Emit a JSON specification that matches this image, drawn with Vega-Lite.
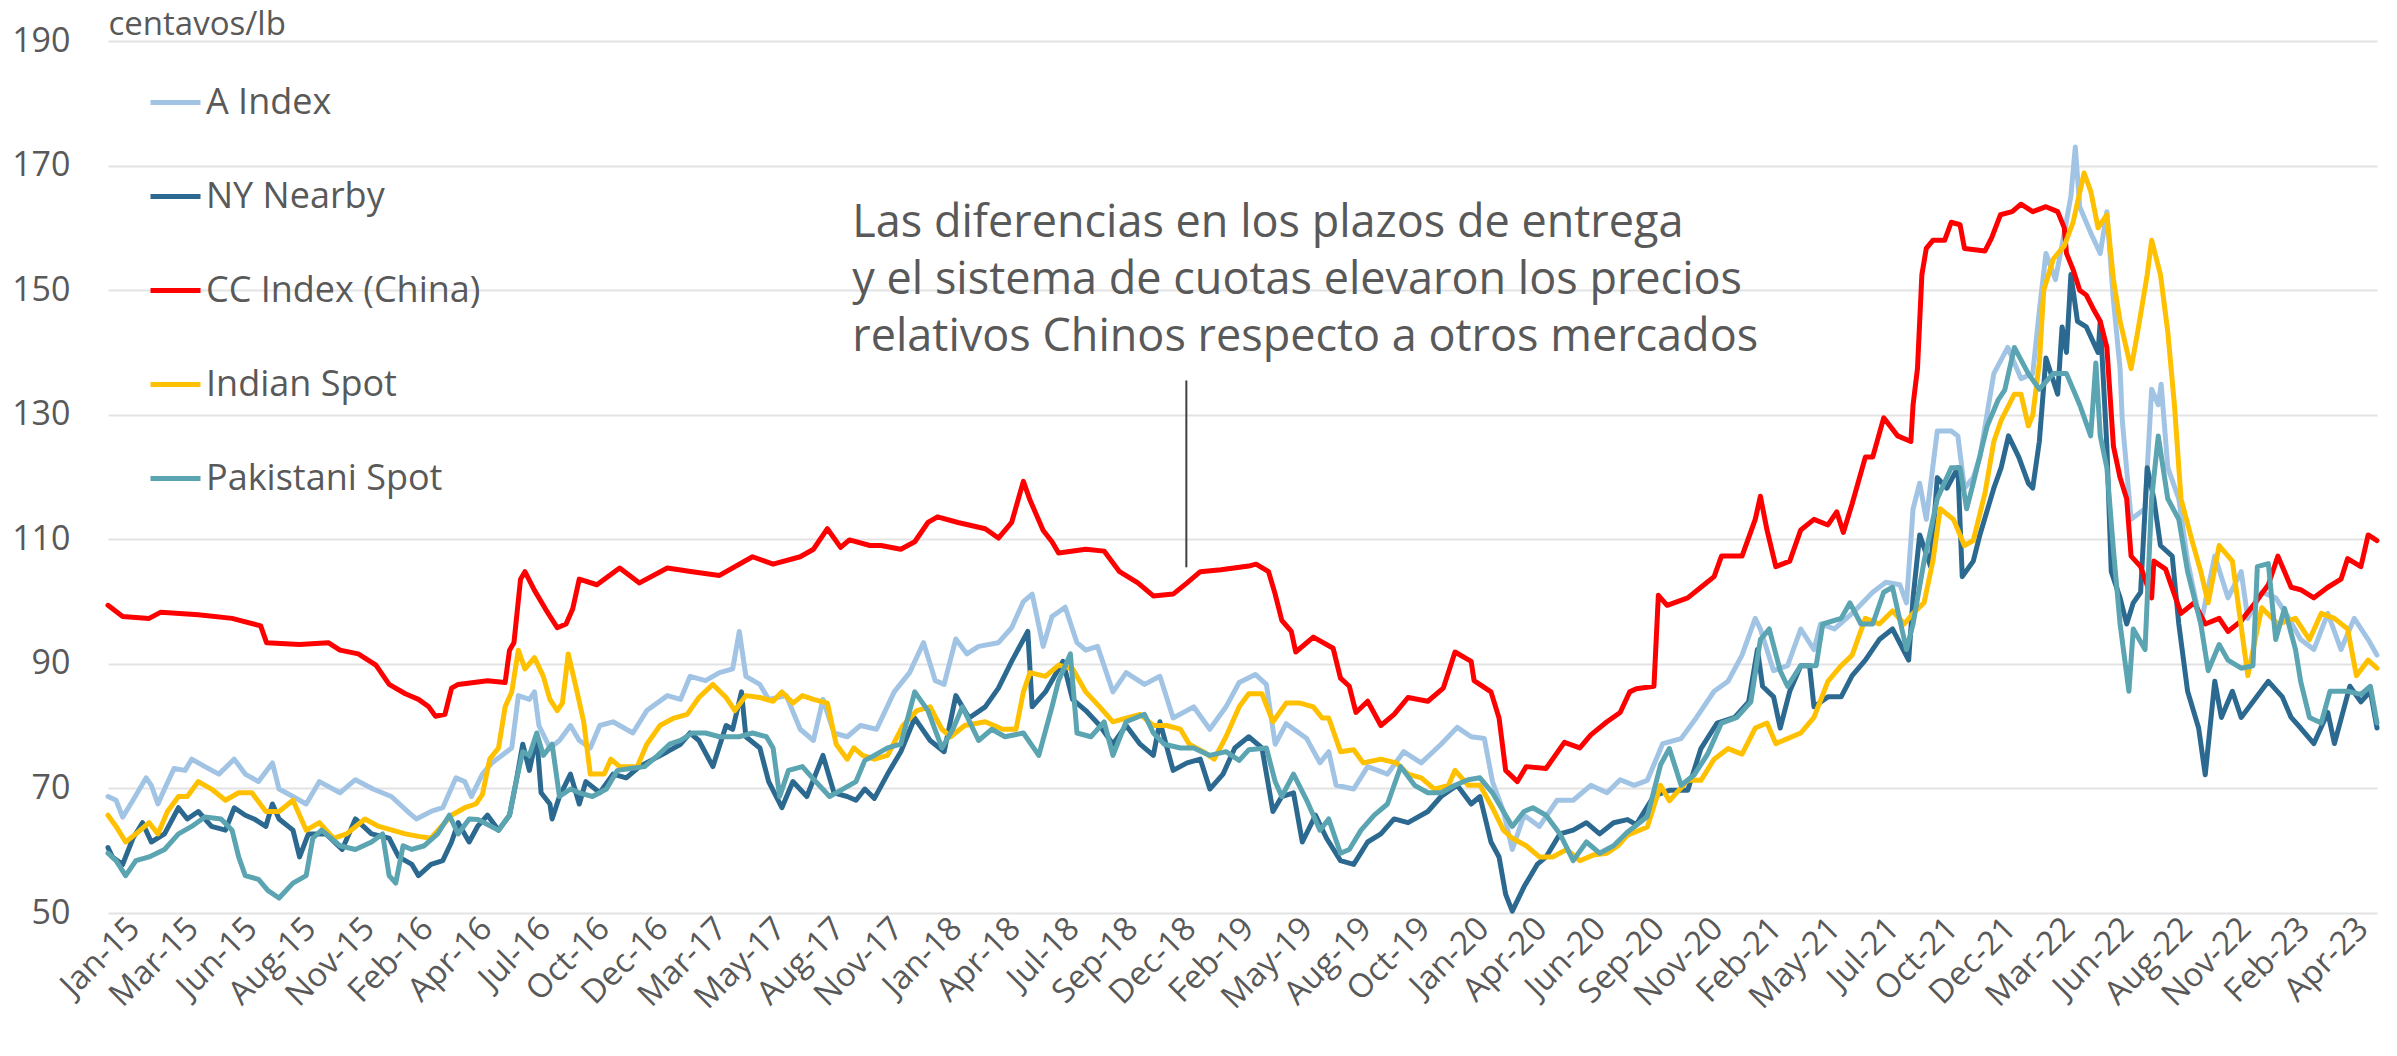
{
"$schema": "https://vega.github.io/schema/vega-lite/v6.json",
"width": 2269, "height": 872,
"autosize": {"type": "none"},
"padding": {"left": 108, "top": 41, "right": 20, "bottom": 143},
"background": "white",
"config": {"view": {"stroke": null}, "font": "Open Sans"},
"datasets": {
"prices": [
{"s":"A Index","d":"2015-01-01","v":68.7},{"s":"A Index","d":"2015-01-12","v":68.1},{"s":"A Index","d":"2015-01-21","v":65.4},{"s":"A Index","d":"2015-02-04","v":68.1},{"s":"A Index","d":"2015-02-22","v":71.7},{"s":"A Index","d":"2015-03-01","v":70.5},{"s":"A Index","d":"2015-03-10","v":67.5},{"s":"A Index","d":"2015-03-19","v":69.9},{"s":"A Index","d":"2015-04-01","v":73.2},{"s":"A Index","d":"2015-04-16","v":72.9},{"s":"A Index","d":"2015-04-25","v":74.7},{"s":"A Index","d":"2015-05-13","v":73.5},{"s":"A Index","d":"2015-06-01","v":72.3},{"s":"A Index","d":"2015-06-22","v":74.7},{"s":"A Index","d":"2015-07-07","v":72.3},{"s":"A Index","d":"2015-07-25","v":71.1},{"s":"A Index","d":"2015-08-13","v":74.1},{"s":"A Index","d":"2015-08-22","v":69.9},{"s":"A Index","d":"2015-09-10","v":68.7},{"s":"A Index","d":"2015-09-28","v":67.5},{"s":"A Index","d":"2015-10-16","v":71.1},{"s":"A Index","d":"2015-11-13","v":69.3},{"s":"A Index","d":"2015-12-04","v":71.4},{"s":"A Index","d":"2015-12-28","v":69.9},{"s":"A Index","d":"2016-01-22","v":68.7},{"s":"A Index","d":"2016-02-16","v":66.0},{"s":"A Index","d":"2016-02-25","v":65.1},{"s":"A Index","d":"2016-03-16","v":66.3},{"s":"A Index","d":"2016-04-01","v":66.9},{"s":"A Index","d":"2016-04-19","v":71.7},{"s":"A Index","d":"2016-05-01","v":71.1},{"s":"A Index","d":"2016-05-10","v":68.7},{"s":"A Index","d":"2016-05-25","v":72.3},{"s":"A Index","d":"2016-06-07","v":74.1},{"s":"A Index","d":"2016-07-04","v":76.5},{"s":"A Index","d":"2016-07-13","v":84.9},{"s":"A Index","d":"2016-07-28","v":84.3},{"s":"A Index","d":"2016-08-04","v":85.5},{"s":"A Index","d":"2016-08-10","v":80.1},{"s":"A Index","d":"2016-08-25","v":76.5},{"s":"A Index","d":"2016-09-07","v":77.7},{"s":"A Index","d":"2016-09-22","v":80.1},{"s":"A Index","d":"2016-10-04","v":77.7},{"s":"A Index","d":"2016-10-19","v":76.5},{"s":"A Index","d":"2016-11-01","v":80.1},{"s":"A Index","d":"2016-11-19","v":80.7},{"s":"A Index","d":"2016-12-16","v":78.9},{"s":"A Index","d":"2017-01-04","v":82.5},{"s":"A Index","d":"2017-02-01","v":84.9},{"s":"A Index","d":"2017-02-19","v":84.3},{"s":"A Index","d":"2017-03-04","v":88.0},{"s":"A Index","d":"2017-03-25","v":87.3},{"s":"A Index","d":"2017-04-13","v":88.6},{"s":"A Index","d":"2017-05-01","v":89.2},{"s":"A Index","d":"2017-05-10","v":95.2},{"s":"A Index","d":"2017-05-19","v":88.0},{"s":"A Index","d":"2017-06-07","v":86.7},{"s":"A Index","d":"2017-06-19","v":84.3},{"s":"A Index","d":"2017-07-13","v":84.9},{"s":"A Index","d":"2017-08-01","v":79.5},{"s":"A Index","d":"2017-08-19","v":77.7},{"s":"A Index","d":"2017-09-01","v":84.3},{"s":"A Index","d":"2017-09-16","v":78.9},{"s":"A Index","d":"2017-10-04","v":78.3},{"s":"A Index","d":"2017-10-22","v":80.1},{"s":"A Index","d":"2017-11-13","v":79.5},{"s":"A Index","d":"2017-12-07","v":85.5},{"s":"A Index","d":"2017-12-28","v":88.6},{"s":"A Index","d":"2018-01-16","v":93.4},{"s":"A Index","d":"2018-02-01","v":87.3},{"s":"A Index","d":"2018-02-13","v":86.7},{"s":"A Index","d":"2018-03-01","v":94.0},{"s":"A Index","d":"2018-03-16","v":91.6},{"s":"A Index","d":"2018-04-01","v":92.8},{"s":"A Index","d":"2018-04-28","v":93.4},{"s":"A Index","d":"2018-05-16","v":95.8},{"s":"A Index","d":"2018-06-01","v":100.0},{"s":"A Index","d":"2018-06-13","v":101.2},{"s":"A Index","d":"2018-06-28","v":92.8},{"s":"A Index","d":"2018-07-10","v":97.6},{"s":"A Index","d":"2018-07-28","v":99.1},{"s":"A Index","d":"2018-08-13","v":93.4},{"s":"A Index","d":"2018-08-25","v":92.2},{"s":"A Index","d":"2018-09-10","v":92.8},{"s":"A Index","d":"2018-10-01","v":85.5},{"s":"A Index","d":"2018-10-19","v":88.6},{"s":"A Index","d":"2018-11-13","v":86.7},{"s":"A Index","d":"2018-12-04","v":88.0},{"s":"A Index","d":"2018-12-22","v":81.3},{"s":"A Index","d":"2019-01-19","v":83.1},{"s":"A Index","d":"2019-02-10","v":79.5},{"s":"A Index","d":"2019-03-04","v":83.1},{"s":"A Index","d":"2019-03-22","v":87.0},{"s":"A Index","d":"2019-04-13","v":88.3},{"s":"A Index","d":"2019-04-28","v":86.7},{"s":"A Index","d":"2019-05-10","v":77.1},{"s":"A Index","d":"2019-05-25","v":80.4},{"s":"A Index","d":"2019-06-22","v":78.0},{"s":"A Index","d":"2019-07-10","v":74.1},{"s":"A Index","d":"2019-07-22","v":75.9},{"s":"A Index","d":"2019-08-01","v":70.5},{"s":"A Index","d":"2019-08-25","v":69.9},{"s":"A Index","d":"2019-09-13","v":73.5},{"s":"A Index","d":"2019-10-10","v":72.3},{"s":"A Index","d":"2019-11-01","v":75.9},{"s":"A Index","d":"2019-11-25","v":74.1},{"s":"A Index","d":"2019-12-22","v":77.1},{"s":"A Index","d":"2020-01-13","v":79.8},{"s":"A Index","d":"2020-02-01","v":78.3},{"s":"A Index","d":"2020-02-19","v":78.0},{"s":"A Index","d":"2020-03-01","v":71.1},{"s":"A Index","d":"2020-03-16","v":66.3},{"s":"A Index","d":"2020-03-28","v":60.2},{"s":"A Index","d":"2020-04-13","v":65.7},{"s":"A Index","d":"2020-05-04","v":63.9},{"s":"A Index","d":"2020-05-28","v":68.1},{"s":"A Index","d":"2020-06-19","v":68.1},{"s":"A Index","d":"2020-07-13","v":70.5},{"s":"A Index","d":"2020-08-04","v":69.3},{"s":"A Index","d":"2020-08-22","v":71.4},{"s":"A Index","d":"2020-09-10","v":70.5},{"s":"A Index","d":"2020-09-28","v":71.3},{"s":"A Index","d":"2020-10-19","v":77.2},{"s":"A Index","d":"2020-11-13","v":78.0},{"s":"A Index","d":"2020-12-04","v":81.4},{"s":"A Index","d":"2020-12-28","v":85.6},{"s":"A Index","d":"2021-01-16","v":87.2},{"s":"A Index","d":"2021-02-04","v":91.4},{"s":"A Index","d":"2021-02-22","v":97.3},{"s":"A Index","d":"2021-03-01","v":95.6},{"s":"A Index","d":"2021-03-19","v":88.9},{"s":"A Index","d":"2021-04-07","v":89.7},{"s":"A Index","d":"2021-04-25","v":95.6},{"s":"A Index","d":"2021-05-13","v":92.3},{"s":"A Index","d":"2021-05-22","v":96.4},{"s":"A Index","d":"2021-06-10","v":95.6},{"s":"A Index","d":"2021-07-04","v":98.1},{"s":"A Index","d":"2021-08-01","v":101.5},{"s":"A Index","d":"2021-08-19","v":103.1},{"s":"A Index","d":"2021-09-07","v":102.7},{"s":"A Index","d":"2021-09-16","v":99.8},{"s":"A Index","d":"2021-09-25","v":114.9},{"s":"A Index","d":"2021-10-04","v":119.0},{"s":"A Index","d":"2021-10-13","v":113.2},{"s":"A Index","d":"2021-10-28","v":127.4},{"s":"A Index","d":"2021-11-16","v":127.4},{"s":"A Index","d":"2021-11-25","v":126.6},{"s":"A Index","d":"2021-12-04","v":118.2},{"s":"A Index","d":"2021-12-16","v":119.9},{"s":"A Index","d":"2021-12-25","v":123.2},{"s":"A Index","d":"2022-01-13","v":136.6},{"s":"A Index","d":"2022-02-01","v":140.8},{"s":"A Index","d":"2022-02-19","v":135.8},{"s":"A Index","d":"2022-03-07","v":136.6},{"s":"A Index","d":"2022-03-16","v":146.7},{"s":"A Index","d":"2022-03-25","v":155.9},{"s":"A Index","d":"2022-04-07","v":151.7},{"s":"A Index","d":"2022-04-19","v":159.2},{"s":"A Index","d":"2022-04-28","v":165.1},{"s":"A Index","d":"2022-05-04","v":173.0},{"s":"A Index","d":"2022-05-10","v":163.4},{"s":"A Index","d":"2022-05-25","v":159.2},{"s":"A Index","d":"2022-06-07","v":155.9},{"s":"A Index","d":"2022-06-16","v":162.6},{"s":"A Index","d":"2022-06-25","v":148.3},{"s":"A Index","d":"2022-07-04","v":137.4},{"s":"A Index","d":"2022-07-07","v":129.1},{"s":"A Index","d":"2022-07-19","v":113.2},{"s":"A Index","d":"2022-08-07","v":114.9},{"s":"A Index","d":"2022-08-16","v":134.1},{"s":"A Index","d":"2022-08-25","v":131.6},{"s":"A Index","d":"2022-08-29","v":134.9},{"s":"A Index","d":"2022-09-07","v":121.5},{"s":"A Index","d":"2022-09-22","v":116.5},{"s":"A Index","d":"2022-10-04","v":106.5},{"s":"A Index","d":"2022-10-22","v":96.4},{"s":"A Index","d":"2022-11-10","v":107.3},{"s":"A Index","d":"2022-11-28","v":100.6},{"s":"A Index","d":"2022-12-16","v":104.8},{"s":"A Index","d":"2022-12-25","v":97.3},{"s":"A Index","d":"2023-01-13","v":101.5},{"s":"A Index","d":"2023-02-01","v":100.6},{"s":"A Index","d":"2023-02-19","v":97.3},{"s":"A Index","d":"2023-03-07","v":93.9},{"s":"A Index","d":"2023-03-25","v":92.3},{"s":"A Index","d":"2023-04-13","v":98.1},{"s":"A Index","d":"2023-05-01","v":92.3},{"s":"A Index","d":"2023-05-19","v":97.3},{"s":"A Index","d":"2023-06-07","v":93.9},{"s":"A Index","d":"2023-06-19","v":91.4},
{"s":"NY Nearby","d":"2015-01-01","v":60.5},{"s":"NY Nearby","d":"2015-01-07","v":59.0},{"s":"NY Nearby","d":"2015-01-21","v":57.8},{"s":"NY Nearby","d":"2015-02-04","v":62.0},{"s":"NY Nearby","d":"2015-02-17","v":64.5},{"s":"NY Nearby","d":"2015-03-01","v":61.4},{"s":"NY Nearby","d":"2015-03-19","v":62.7},{"s":"NY Nearby","d":"2015-04-07","v":66.9},{"s":"NY Nearby","d":"2015-04-19","v":65.1},{"s":"NY Nearby","d":"2015-05-04","v":66.3},{"s":"NY Nearby","d":"2015-05-22","v":63.9},{"s":"NY Nearby","d":"2015-06-10","v":63.3},{"s":"NY Nearby","d":"2015-06-22","v":66.9},{"s":"NY Nearby","d":"2015-07-07","v":65.7},{"s":"NY Nearby","d":"2015-07-19","v":65.1},{"s":"NY Nearby","d":"2015-08-04","v":63.9},{"s":"NY Nearby","d":"2015-08-13","v":67.5},{"s":"NY Nearby","d":"2015-08-22","v":65.1},{"s":"NY Nearby","d":"2015-09-10","v":63.3},{"s":"NY Nearby","d":"2015-09-19","v":59.0},{"s":"NY Nearby","d":"2015-10-01","v":62.7},{"s":"NY Nearby","d":"2015-10-25","v":62.7},{"s":"NY Nearby","d":"2015-11-16","v":60.2},{"s":"NY Nearby","d":"2015-12-04","v":65.1},{"s":"NY Nearby","d":"2015-12-26","v":62.7},{"s":"NY Nearby","d":"2016-01-19","v":62.0},{"s":"NY Nearby","d":"2016-02-01","v":59.0},{"s":"NY Nearby","d":"2016-02-19","v":57.8},{"s":"NY Nearby","d":"2016-02-28","v":56.0},{"s":"NY Nearby","d":"2016-03-16","v":57.8},{"s":"NY Nearby","d":"2016-04-01","v":58.4},{"s":"NY Nearby","d":"2016-04-13","v":61.4},{"s":"NY Nearby","d":"2016-04-22","v":64.5},{"s":"NY Nearby","d":"2016-05-07","v":61.4},{"s":"NY Nearby","d":"2016-05-19","v":64.0},{"s":"NY Nearby","d":"2016-06-01","v":65.7},{"s":"NY Nearby","d":"2016-06-16","v":63.3},{"s":"NY Nearby","d":"2016-07-01","v":65.7},{"s":"NY Nearby","d":"2016-07-10","v":71.1},{"s":"NY Nearby","d":"2016-07-19","v":77.1},{"s":"NY Nearby","d":"2016-07-28","v":72.9},{"s":"NY Nearby","d":"2016-08-07","v":78.3},{"s":"NY Nearby","d":"2016-08-13","v":69.3},{"s":"NY Nearby","d":"2016-08-25","v":67.5},{"s":"NY Nearby","d":"2016-08-28","v":65.1},{"s":"NY Nearby","d":"2016-09-07","v":68.7},{"s":"NY Nearby","d":"2016-09-22","v":72.3},{"s":"NY Nearby","d":"2016-10-04","v":67.5},{"s":"NY Nearby","d":"2016-10-13","v":71.1},{"s":"NY Nearby","d":"2016-11-01","v":69.3},{"s":"NY Nearby","d":"2016-11-19","v":72.3},{"s":"NY Nearby","d":"2016-12-07","v":71.7},{"s":"NY Nearby","d":"2016-12-25","v":73.5},{"s":"NY Nearby","d":"2017-01-13","v":74.7},{"s":"NY Nearby","d":"2017-02-01","v":75.9},{"s":"NY Nearby","d":"2017-02-19","v":77.1},{"s":"NY Nearby","d":"2017-03-04","v":78.9},{"s":"NY Nearby","d":"2017-03-16","v":77.7},{"s":"NY Nearby","d":"2017-04-04","v":73.5},{"s":"NY Nearby","d":"2017-04-22","v":80.1},{"s":"NY Nearby","d":"2017-05-01","v":79.5},{"s":"NY Nearby","d":"2017-05-13","v":85.5},{"s":"NY Nearby","d":"2017-05-19","v":78.3},{"s":"NY Nearby","d":"2017-06-07","v":76.5},{"s":"NY Nearby","d":"2017-06-19","v":71.1},{"s":"NY Nearby","d":"2017-07-07","v":66.9},{"s":"NY Nearby","d":"2017-07-22","v":71.1},{"s":"NY Nearby","d":"2017-08-10","v":68.7},{"s":"NY Nearby","d":"2017-09-01","v":75.3},{"s":"NY Nearby","d":"2017-09-16","v":69.3},{"s":"NY Nearby","d":"2017-10-04","v":68.7},{"s":"NY Nearby","d":"2017-10-16","v":68.1},{"s":"NY Nearby","d":"2017-10-28","v":69.9},{"s":"NY Nearby","d":"2017-11-10","v":68.4},{"s":"NY Nearby","d":"2017-11-28","v":72.3},{"s":"NY Nearby","d":"2017-12-16","v":75.9},{"s":"NY Nearby","d":"2018-01-04","v":81.3},{"s":"NY Nearby","d":"2018-01-25","v":77.7},{"s":"NY Nearby","d":"2018-02-13","v":75.9},{"s":"NY Nearby","d":"2018-03-01","v":84.9},{"s":"NY Nearby","d":"2018-03-19","v":81.3},{"s":"NY Nearby","d":"2018-04-10","v":83.1},{"s":"NY Nearby","d":"2018-04-28","v":86.1},{"s":"NY Nearby","d":"2018-05-16","v":90.4},{"s":"NY Nearby","d":"2018-06-07","v":95.2},{"s":"NY Nearby","d":"2018-06-13","v":83.1},{"s":"NY Nearby","d":"2018-07-01","v":85.5},{"s":"NY Nearby","d":"2018-07-25","v":90.4},{"s":"NY Nearby","d":"2018-08-07","v":84.3},{"s":"NY Nearby","d":"2018-08-25","v":82.5},{"s":"NY Nearby","d":"2018-09-13","v":80.1},{"s":"NY Nearby","d":"2018-10-01","v":77.1},{"s":"NY Nearby","d":"2018-10-19","v":80.1},{"s":"NY Nearby","d":"2018-11-07","v":77.1},{"s":"NY Nearby","d":"2018-11-25","v":75.3},{"s":"NY Nearby","d":"2018-12-04","v":80.7},{"s":"NY Nearby","d":"2018-12-22","v":72.9},{"s":"NY Nearby","d":"2019-01-10","v":74.1},{"s":"NY Nearby","d":"2019-01-28","v":74.7},{"s":"NY Nearby","d":"2019-02-10","v":69.9},{"s":"NY Nearby","d":"2019-02-28","v":72.3},{"s":"NY Nearby","d":"2019-03-16","v":76.5},{"s":"NY Nearby","d":"2019-04-04","v":78.3},{"s":"NY Nearby","d":"2019-04-22","v":76.5},{"s":"NY Nearby","d":"2019-05-07","v":66.3},{"s":"NY Nearby","d":"2019-05-19","v":68.7},{"s":"NY Nearby","d":"2019-06-04","v":69.3},{"s":"NY Nearby","d":"2019-06-16","v":61.4},{"s":"NY Nearby","d":"2019-07-04","v":65.7},{"s":"NY Nearby","d":"2019-07-19","v":62.0},{"s":"NY Nearby","d":"2019-08-07","v":58.4},{"s":"NY Nearby","d":"2019-08-25","v":57.8},{"s":"NY Nearby","d":"2019-09-13","v":61.4},{"s":"NY Nearby","d":"2019-10-01","v":62.7},{"s":"NY Nearby","d":"2019-10-19","v":65.1},{"s":"NY Nearby","d":"2019-11-07","v":64.5},{"s":"NY Nearby","d":"2019-12-04","v":66.3},{"s":"NY Nearby","d":"2019-12-22","v":68.7},{"s":"NY Nearby","d":"2020-01-13","v":70.5},{"s":"NY Nearby","d":"2020-02-01","v":67.5},{"s":"NY Nearby","d":"2020-02-13","v":68.7},{"s":"NY Nearby","d":"2020-02-28","v":61.4},{"s":"NY Nearby","d":"2020-03-10","v":59.0},{"s":"NY Nearby","d":"2020-03-19","v":53.0},{"s":"NY Nearby","d":"2020-03-28","v":50.3},{"s":"NY Nearby","d":"2020-04-13","v":54.2},{"s":"NY Nearby","d":"2020-05-01","v":57.8},{"s":"NY Nearby","d":"2020-05-13","v":59.0},{"s":"NY Nearby","d":"2020-06-01","v":62.7},{"s":"NY Nearby","d":"2020-06-19","v":63.3},{"s":"NY Nearby","d":"2020-07-07","v":64.5},{"s":"NY Nearby","d":"2020-07-25","v":62.7},{"s":"NY Nearby","d":"2020-08-13","v":64.5},{"s":"NY Nearby","d":"2020-09-01","v":65.0},{"s":"NY Nearby","d":"2020-09-13","v":64.2},{"s":"NY Nearby","d":"2020-10-07","v":68.8},{"s":"NY Nearby","d":"2020-10-28","v":69.7},{"s":"NY Nearby","d":"2020-11-22","v":69.7},{"s":"NY Nearby","d":"2020-12-10","v":76.4},{"s":"NY Nearby","d":"2021-01-01","v":80.5},{"s":"NY Nearby","d":"2021-01-25","v":81.4},{"s":"NY Nearby","d":"2021-02-13","v":83.9},{"s":"NY Nearby","d":"2021-02-25","v":92.3},{"s":"NY Nearby","d":"2021-03-04","v":86.4},{"s":"NY Nearby","d":"2021-03-19","v":84.7},{"s":"NY Nearby","d":"2021-03-28","v":79.7},{"s":"NY Nearby","d":"2021-04-10","v":85.6},{"s":"NY Nearby","d":"2021-04-25","v":89.7},{"s":"NY Nearby","d":"2021-05-07","v":89.7},{"s":"NY Nearby","d":"2021-05-13","v":83.1},{"s":"NY Nearby","d":"2021-06-01","v":84.7},{"s":"NY Nearby","d":"2021-06-19","v":84.7},{"s":"NY Nearby","d":"2021-07-04","v":88.1},{"s":"NY Nearby","d":"2021-07-22","v":90.6},{"s":"NY Nearby","d":"2021-08-10","v":93.9},{"s":"NY Nearby","d":"2021-08-28","v":95.6},{"s":"NY Nearby","d":"2021-09-19","v":90.6},{"s":"NY Nearby","d":"2021-09-25","v":100.6},{"s":"NY Nearby","d":"2021-10-04","v":110.7},{"s":"NY Nearby","d":"2021-10-19","v":105.6},{"s":"NY Nearby","d":"2021-10-28","v":119.9},{"s":"NY Nearby","d":"2021-11-10","v":118.2},{"s":"NY Nearby","d":"2021-11-25","v":121.5},{"s":"NY Nearby","d":"2021-12-01","v":104.0},{"s":"NY Nearby","d":"2021-12-16","v":106.5},{"s":"NY Nearby","d":"2021-12-25","v":110.7},{"s":"NY Nearby","d":"2022-01-13","v":118.2},{"s":"NY Nearby","d":"2022-01-23","v":121.5},{"s":"NY Nearby","d":"2022-02-02","v":126.6},{"s":"NY Nearby","d":"2022-02-16","v":123.2},{"s":"NY Nearby","d":"2022-03-01","v":119.0},{"s":"NY Nearby","d":"2022-03-07","v":118.2},{"s":"NY Nearby","d":"2022-03-16","v":125.7},{"s":"NY Nearby","d":"2022-03-25","v":139.1},{"s":"NY Nearby","d":"2022-04-10","v":133.3},{"s":"NY Nearby","d":"2022-04-16","v":144.1},{"s":"NY Nearby","d":"2022-04-22","v":140.0},{"s":"NY Nearby","d":"2022-04-28","v":152.5},{"s":"NY Nearby","d":"2022-05-07","v":145.0},{"s":"NY Nearby","d":"2022-05-19","v":144.1},{"s":"NY Nearby","d":"2022-06-04","v":140.0},{"s":"NY Nearby","d":"2022-06-07","v":145.0},{"s":"NY Nearby","d":"2022-06-16","v":124.9},{"s":"NY Nearby","d":"2022-06-22","v":104.8},{"s":"NY Nearby","d":"2022-07-04","v":100.6},{"s":"NY Nearby","d":"2022-07-13","v":96.4},{"s":"NY Nearby","d":"2022-07-22","v":99.8},{"s":"NY Nearby","d":"2022-08-01","v":101.5},{"s":"NY Nearby","d":"2022-08-10","v":121.5},{"s":"NY Nearby","d":"2022-08-19","v":116.5},{"s":"NY Nearby","d":"2022-08-28","v":109.0},{"s":"NY Nearby","d":"2022-09-13","v":107.3},{"s":"NY Nearby","d":"2022-09-22","v":96.4},{"s":"NY Nearby","d":"2022-10-04","v":85.6},{"s":"NY Nearby","d":"2022-10-19","v":79.7},{"s":"NY Nearby","d":"2022-10-28","v":72.2},{"s":"NY Nearby","d":"2022-11-10","v":87.2},{"s":"NY Nearby","d":"2022-11-19","v":81.4},{"s":"NY Nearby","d":"2022-12-04","v":85.6},{"s":"NY Nearby","d":"2022-12-16","v":81.4},{"s":"NY Nearby","d":"2023-01-01","v":83.9},{"s":"NY Nearby","d":"2023-01-22","v":87.2},{"s":"NY Nearby","d":"2023-02-10","v":84.7},{"s":"NY Nearby","d":"2023-02-22","v":81.4},{"s":"NY Nearby","d":"2023-03-07","v":79.7},{"s":"NY Nearby","d":"2023-03-25","v":77.2},{"s":"NY Nearby","d":"2023-04-13","v":82.2},{"s":"NY Nearby","d":"2023-04-22","v":77.2},{"s":"NY Nearby","d":"2023-05-13","v":86.4},{"s":"NY Nearby","d":"2023-05-28","v":83.9},{"s":"NY Nearby","d":"2023-06-10","v":85.6},{"s":"NY Nearby","d":"2023-06-19","v":79.7},
{"s":"CC Index (China)","d":"2015-01-01","v":99.4},{"s":"CC Index (China)","d":"2015-01-21","v":97.6},{"s":"CC Index (China)","d":"2015-02-26","v":97.3},{"s":"CC Index (China)","d":"2015-03-14","v":98.3},{"s":"CC Index (China)","d":"2015-05-04","v":97.9},{"s":"CC Index (China)","d":"2015-06-19","v":97.3},{"s":"CC Index (China)","d":"2015-07-28","v":96.1},{"s":"CC Index (China)","d":"2015-08-05","v":93.4},{"s":"CC Index (China)","d":"2015-09-19","v":93.1},{"s":"CC Index (China)","d":"2015-10-28","v":93.4},{"s":"CC Index (China)","d":"2015-11-13","v":92.2},{"s":"CC Index (China)","d":"2015-12-08","v":91.6},{"s":"CC Index (China)","d":"2016-01-01","v":89.8},{"s":"CC Index (China)","d":"2016-01-19","v":86.7},{"s":"CC Index (China)","d":"2016-02-10","v":85.2},{"s":"CC Index (China)","d":"2016-02-28","v":84.3},{"s":"CC Index (China)","d":"2016-03-13","v":83.1},{"s":"CC Index (China)","d":"2016-03-22","v":81.6},{"s":"CC Index (China)","d":"2016-04-04","v":81.9},{"s":"CC Index (China)","d":"2016-04-13","v":86.1},{"s":"CC Index (China)","d":"2016-04-22","v":86.7},{"s":"CC Index (China)","d":"2016-06-01","v":87.3},{"s":"CC Index (China)","d":"2016-06-25","v":87.0},{"s":"CC Index (China)","d":"2016-07-01","v":92.2},{"s":"CC Index (China)","d":"2016-07-07","v":93.4},{"s":"CC Index (China)","d":"2016-07-16","v":103.6},{"s":"CC Index (China)","d":"2016-07-22","v":104.8},{"s":"CC Index (China)","d":"2016-08-04","v":101.8},{"s":"CC Index (China)","d":"2016-08-19","v":98.8},{"s":"CC Index (China)","d":"2016-09-04","v":95.8},{"s":"CC Index (China)","d":"2016-09-16","v":96.4},{"s":"CC Index (China)","d":"2016-09-25","v":98.8},{"s":"CC Index (China)","d":"2016-10-04","v":103.6},{"s":"CC Index (China)","d":"2016-10-28","v":102.7},{"s":"CC Index (China)","d":"2016-11-28","v":105.4},{"s":"CC Index (China)","d":"2016-12-25","v":103.0},{"s":"CC Index (China)","d":"2017-02-01","v":105.4},{"s":"CC Index (China)","d":"2017-03-07","v":104.8},{"s":"CC Index (China)","d":"2017-04-13","v":104.2},{"s":"CC Index (China)","d":"2017-05-28","v":107.2},{"s":"CC Index (China)","d":"2017-06-25","v":106.0},{"s":"CC Index (China)","d":"2017-08-01","v":107.2},{"s":"CC Index (China)","d":"2017-08-19","v":108.4},{"s":"CC Index (China)","d":"2017-09-07","v":111.7},{"s":"CC Index (China)","d":"2017-09-25","v":108.7},{"s":"CC Index (China)","d":"2017-10-07","v":109.9},{"s":"CC Index (China)","d":"2017-11-04","v":109.0},{"s":"CC Index (China)","d":"2017-11-19","v":109.0},{"s":"CC Index (China)","d":"2017-12-16","v":108.4},{"s":"CC Index (China)","d":"2018-01-04","v":109.6},{"s":"CC Index (China)","d":"2018-01-22","v":112.7},{"s":"CC Index (China)","d":"2018-02-04","v":113.6},{"s":"CC Index (China)","d":"2018-03-04","v":112.7},{"s":"CC Index (China)","d":"2018-04-10","v":111.7},{"s":"CC Index (China)","d":"2018-04-28","v":110.2},{"s":"CC Index (China)","d":"2018-05-16","v":112.7},{"s":"CC Index (China)","d":"2018-06-01","v":119.3},{"s":"CC Index (China)","d":"2018-06-10","v":116.3},{"s":"CC Index (China)","d":"2018-06-28","v":111.4},{"s":"CC Index (China)","d":"2018-07-10","v":109.6},{"s":"CC Index (China)","d":"2018-07-19","v":107.8},{"s":"CC Index (China)","d":"2018-08-25","v":108.4},{"s":"CC Index (China)","d":"2018-09-19","v":108.1},{"s":"CC Index (China)","d":"2018-10-10","v":104.8},{"s":"CC Index (China)","d":"2018-11-04","v":103.0},{"s":"CC Index (China)","d":"2018-11-25","v":100.9},{"s":"CC Index (China)","d":"2018-12-22","v":101.2},{"s":"CC Index (China)","d":"2019-01-10","v":103.0},{"s":"CC Index (China)","d":"2019-01-28","v":104.8},{"s":"CC Index (China)","d":"2019-02-25","v":105.1},{"s":"CC Index (China)","d":"2019-04-04","v":105.7},{"s":"CC Index (China)","d":"2019-04-14","v":106.0},{"s":"CC Index (China)","d":"2019-05-01","v":104.8},{"s":"CC Index (China)","d":"2019-05-10","v":101.2},{"s":"CC Index (China)","d":"2019-05-19","v":97.0},{"s":"CC Index (China)","d":"2019-06-01","v":95.2},{"s":"CC Index (China)","d":"2019-06-07","v":91.9},{"s":"CC Index (China)","d":"2019-07-01","v":94.3},{"s":"CC Index (China)","d":"2019-07-28","v":92.5},{"s":"CC Index (China)","d":"2019-08-07","v":87.7},{"s":"CC Index (China)","d":"2019-08-19","v":86.4},{"s":"CC Index (China)","d":"2019-08-28","v":82.2},{"s":"CC Index (China)","d":"2019-09-13","v":84.0},{"s":"CC Index (China)","d":"2019-10-01","v":80.1},{"s":"CC Index (China)","d":"2019-10-19","v":81.9},{"s":"CC Index (China)","d":"2019-11-07","v":84.6},{"s":"CC Index (China)","d":"2019-12-04","v":84.0},{"s":"CC Index (China)","d":"2019-12-25","v":86.1},{"s":"CC Index (China)","d":"2020-01-10","v":91.9},{"s":"CC Index (China)","d":"2020-02-01","v":90.4},{"s":"CC Index (China)","d":"2020-02-05","v":87.3},{"s":"CC Index (China)","d":"2020-02-28","v":85.5},{"s":"CC Index (China)","d":"2020-03-10","v":81.3},{"s":"CC Index (China)","d":"2020-03-19","v":72.9},{"s":"CC Index (China)","d":"2020-04-04","v":71.1},{"s":"CC Index (China)","d":"2020-04-16","v":73.5},{"s":"CC Index (China)","d":"2020-05-13","v":73.2},{"s":"CC Index (China)","d":"2020-06-07","v":77.4},{"s":"CC Index (China)","d":"2020-06-28","v":76.5},{"s":"CC Index (China)","d":"2020-07-13","v":78.6},{"s":"CC Index (China)","d":"2020-08-04","v":80.7},{"s":"CC Index (China)","d":"2020-08-22","v":82.2},{"s":"CC Index (China)","d":"2020-09-04","v":85.5},{"s":"CC Index (China)","d":"2020-09-13","v":86.0},{"s":"CC Index (China)","d":"2020-10-07","v":86.4},{"s":"CC Index (China)","d":"2020-10-13","v":101.0},{"s":"CC Index (China)","d":"2020-10-25","v":99.4},{"s":"CC Index (China)","d":"2020-11-22","v":100.6},{"s":"CC Index (China)","d":"2020-12-10","v":102.3},{"s":"CC Index (China)","d":"2020-12-28","v":104.0},{"s":"CC Index (China)","d":"2021-01-07","v":107.3},{"s":"CC Index (China)","d":"2021-02-04","v":107.3},{"s":"CC Index (China)","d":"2021-02-22","v":113.2},{"s":"CC Index (China)","d":"2021-03-01","v":116.9},{"s":"CC Index (China)","d":"2021-03-10","v":111.5},{"s":"CC Index (China)","d":"2021-03-22","v":105.6},{"s":"CC Index (China)","d":"2021-04-10","v":106.5},{"s":"CC Index (China)","d":"2021-04-25","v":111.5},{"s":"CC Index (China)","d":"2021-05-13","v":113.2},{"s":"CC Index (China)","d":"2021-06-01","v":112.3},{"s":"CC Index (China)","d":"2021-06-13","v":114.4},{"s":"CC Index (China)","d":"2021-06-22","v":111.1},{"s":"CC Index (China)","d":"2021-07-04","v":115.7},{"s":"CC Index (China)","d":"2021-07-22","v":123.2},{"s":"CC Index (China)","d":"2021-08-01","v":123.2},{"s":"CC Index (China)","d":"2021-08-16","v":129.5},{"s":"CC Index (China)","d":"2021-09-04","v":126.6},{"s":"CC Index (China)","d":"2021-09-22","v":125.7},{"s":"CC Index (China)","d":"2021-09-25","v":131.6},{"s":"CC Index (China)","d":"2021-10-01","v":137.4},{"s":"CC Index (China)","d":"2021-10-07","v":152.5},{"s":"CC Index (China)","d":"2021-10-13","v":156.7},{"s":"CC Index (China)","d":"2021-10-22","v":158.0},{"s":"CC Index (China)","d":"2021-11-07","v":158.0},{"s":"CC Index (China)","d":"2021-11-16","v":160.9},{"s":"CC Index (China)","d":"2021-11-28","v":160.5},{"s":"CC Index (China)","d":"2021-12-04","v":156.7},{"s":"CC Index (China)","d":"2022-01-01","v":156.3},{"s":"CC Index (China)","d":"2022-01-10","v":158.4},{"s":"CC Index (China)","d":"2022-01-22","v":162.1},{"s":"CC Index (China)","d":"2022-02-07","v":162.6},{"s":"CC Index (China)","d":"2022-02-19","v":163.8},{"s":"CC Index (China)","d":"2022-03-07","v":162.6},{"s":"CC Index (China)","d":"2022-03-25","v":163.4},{"s":"CC Index (China)","d":"2022-04-10","v":162.6},{"s":"CC Index (China)","d":"2022-04-19","v":160.0},{"s":"CC Index (China)","d":"2022-04-22","v":155.9},{"s":"CC Index (China)","d":"2022-05-01","v":153.3},{"s":"CC Index (China)","d":"2022-05-10","v":150.0},{"s":"CC Index (China)","d":"2022-05-19","v":149.2},{"s":"CC Index (China)","d":"2022-05-28","v":147.1},{"s":"CC Index (China)","d":"2022-06-07","v":145.0},{"s":"CC Index (China)","d":"2022-06-16","v":140.8},{"s":"CC Index (China)","d":"2022-06-25","v":124.9},{"s":"CC Index (China)","d":"2022-07-04","v":119.9},{"s":"CC Index (China)","d":"2022-07-13","v":116.5},{"s":"CC Index (China)","d":"2022-07-19","v":107.3},{"s":"CC Index (China)","d":"2022-08-01","v":105.6},{"s":"CC Index (China)","d":"2022-08-16","v":100.6},{"s":"CC Index (China)","d":"2022-08-19","v":106.5},{"s":"CC Index (China)","d":"2022-09-04","v":105.2},{"s":"CC Index (China)","d":"2022-09-25","v":98.1},{"s":"CC Index (China)","d":"2022-10-13","v":99.8},{"s":"CC Index (China)","d":"2022-10-28","v":96.4},{"s":"CC Index (China)","d":"2022-11-16","v":97.3},{"s":"CC Index (China)","d":"2022-11-28","v":95.2},{"s":"CC Index (China)","d":"2022-12-16","v":96.9},{"s":"CC Index (China)","d":"2023-01-04","v":99.8},{"s":"CC Index (China)","d":"2023-01-22","v":102.7},{"s":"CC Index (China)","d":"2023-02-04","v":107.3},{"s":"CC Index (China)","d":"2023-02-22","v":102.3},{"s":"CC Index (China)","d":"2023-03-07","v":101.9},{"s":"CC Index (China)","d":"2023-03-25","v":100.6},{"s":"CC Index (China)","d":"2023-04-13","v":102.3},{"s":"CC Index (China)","d":"2023-05-01","v":103.6},{"s":"CC Index (China)","d":"2023-05-10","v":106.9},{"s":"CC Index (China)","d":"2023-05-28","v":105.6},{"s":"CC Index (China)","d":"2023-06-07","v":110.7},{"s":"CC Index (China)","d":"2023-06-19","v":109.8},
{"s":"Indian Spot","d":"2015-01-01","v":65.7},{"s":"Indian Spot","d":"2015-01-12","v":63.9},{"s":"Indian Spot","d":"2015-01-25","v":61.4},{"s":"Indian Spot","d":"2015-02-08","v":62.7},{"s":"Indian Spot","d":"2015-02-26","v":64.5},{"s":"Indian Spot","d":"2015-03-10","v":62.7},{"s":"Indian Spot","d":"2015-03-23","v":66.3},{"s":"Indian Spot","d":"2015-04-07","v":68.7},{"s":"Indian Spot","d":"2015-04-19","v":68.7},{"s":"Indian Spot","d":"2015-05-04","v":71.1},{"s":"Indian Spot","d":"2015-05-22","v":69.9},{"s":"Indian Spot","d":"2015-06-10","v":68.1},{"s":"Indian Spot","d":"2015-06-28","v":69.3},{"s":"Indian Spot","d":"2015-07-16","v":69.3},{"s":"Indian Spot","d":"2015-08-04","v":66.3},{"s":"Indian Spot","d":"2015-08-22","v":66.3},{"s":"Indian Spot","d":"2015-09-10","v":68.1},{"s":"Indian Spot","d":"2015-09-28","v":63.3},{"s":"Indian Spot","d":"2015-10-16","v":64.5},{"s":"Indian Spot","d":"2015-11-04","v":62.0},{"s":"Indian Spot","d":"2015-11-22","v":62.7},{"s":"Indian Spot","d":"2015-12-17","v":65.1},{"s":"Indian Spot","d":"2016-01-05","v":63.9},{"s":"Indian Spot","d":"2016-01-23","v":63.3},{"s":"Indian Spot","d":"2016-02-10","v":62.7},{"s":"Indian Spot","d":"2016-02-28","v":62.3},{"s":"Indian Spot","d":"2016-03-16","v":62.0},{"s":"Indian Spot","d":"2016-04-13","v":65.7},{"s":"Indian Spot","d":"2016-05-01","v":66.9},{"s":"Indian Spot","d":"2016-05-16","v":67.5},{"s":"Indian Spot","d":"2016-05-25","v":69.0},{"s":"Indian Spot","d":"2016-06-04","v":74.7},{"s":"Indian Spot","d":"2016-06-16","v":76.5},{"s":"Indian Spot","d":"2016-06-25","v":83.1},{"s":"Indian Spot","d":"2016-07-04","v":85.5},{"s":"Indian Spot","d":"2016-07-13","v":92.2},{"s":"Indian Spot","d":"2016-07-22","v":89.2},{"s":"Indian Spot","d":"2016-08-04","v":91.0},{"s":"Indian Spot","d":"2016-08-16","v":88.0},{"s":"Indian Spot","d":"2016-08-25","v":84.3},{"s":"Indian Spot","d":"2016-09-04","v":82.5},{"s":"Indian Spot","d":"2016-09-11","v":83.7},{"s":"Indian Spot","d":"2016-09-19","v":91.6},{"s":"Indian Spot","d":"2016-10-01","v":85.5},{"s":"Indian Spot","d":"2016-10-10","v":80.7},{"s":"Indian Spot","d":"2016-10-19","v":72.3},{"s":"Indian Spot","d":"2016-11-07","v":72.3},{"s":"Indian Spot","d":"2016-11-16","v":74.7},{"s":"Indian Spot","d":"2016-11-28","v":73.5},{"s":"Indian Spot","d":"2016-12-22","v":73.5},{"s":"Indian Spot","d":"2017-01-04","v":77.1},{"s":"Indian Spot","d":"2017-01-22","v":80.1},{"s":"Indian Spot","d":"2017-02-10","v":81.3},{"s":"Indian Spot","d":"2017-02-28","v":81.9},{"s":"Indian Spot","d":"2017-03-16","v":84.6},{"s":"Indian Spot","d":"2017-04-04","v":86.7},{"s":"Indian Spot","d":"2017-04-22","v":84.6},{"s":"Indian Spot","d":"2017-05-04","v":82.5},{"s":"Indian Spot","d":"2017-05-19","v":84.9},{"s":"Indian Spot","d":"2017-06-07","v":84.6},{"s":"Indian Spot","d":"2017-06-25","v":84.0},{"s":"Indian Spot","d":"2017-07-07","v":85.5},{"s":"Indian Spot","d":"2017-07-22","v":83.7},{"s":"Indian Spot","d":"2017-08-04","v":84.9},{"s":"Indian Spot","d":"2017-08-19","v":84.3},{"s":"Indian Spot","d":"2017-09-07","v":83.7},{"s":"Indian Spot","d":"2017-09-19","v":77.1},{"s":"Indian Spot","d":"2017-10-04","v":74.7},{"s":"Indian Spot","d":"2017-10-13","v":76.5},{"s":"Indian Spot","d":"2017-10-25","v":75.3},{"s":"Indian Spot","d":"2017-11-10","v":74.7},{"s":"Indian Spot","d":"2017-11-28","v":75.3},{"s":"Indian Spot","d":"2017-12-19","v":80.1},{"s":"Indian Spot","d":"2018-01-07","v":82.5},{"s":"Indian Spot","d":"2018-01-25","v":83.1},{"s":"Indian Spot","d":"2018-02-10","v":79.5},{"s":"Indian Spot","d":"2018-02-22","v":78.3},{"s":"Indian Spot","d":"2018-03-13","v":80.1},{"s":"Indian Spot","d":"2018-04-10","v":80.7},{"s":"Indian Spot","d":"2018-05-04","v":79.5},{"s":"Indian Spot","d":"2018-05-22","v":79.5},{"s":"Indian Spot","d":"2018-06-01","v":85.5},{"s":"Indian Spot","d":"2018-06-10","v":88.6},{"s":"Indian Spot","d":"2018-07-01","v":88.0},{"s":"Indian Spot","d":"2018-07-19","v":89.8},{"s":"Indian Spot","d":"2018-08-07","v":89.2},{"s":"Indian Spot","d":"2018-08-25","v":85.5},{"s":"Indian Spot","d":"2018-09-13","v":83.1},{"s":"Indian Spot","d":"2018-10-01","v":80.7},{"s":"Indian Spot","d":"2018-10-19","v":81.3},{"s":"Indian Spot","d":"2018-11-07","v":81.9},{"s":"Indian Spot","d":"2018-11-25","v":80.1},{"s":"Indian Spot","d":"2018-12-13","v":80.1},{"s":"Indian Spot","d":"2019-01-01","v":79.5},{"s":"Indian Spot","d":"2019-01-13","v":77.1},{"s":"Indian Spot","d":"2019-02-01","v":75.9},{"s":"Indian Spot","d":"2019-02-16","v":74.7},{"s":"Indian Spot","d":"2019-03-04","v":78.3},{"s":"Indian Spot","d":"2019-03-22","v":83.1},{"s":"Indian Spot","d":"2019-04-04","v":85.2},{"s":"Indian Spot","d":"2019-04-22","v":85.2},{"s":"Indian Spot","d":"2019-05-07","v":80.7},{"s":"Indian Spot","d":"2019-05-25","v":83.7},{"s":"Indian Spot","d":"2019-06-13","v":83.7},{"s":"Indian Spot","d":"2019-07-01","v":83.1},{"s":"Indian Spot","d":"2019-07-13","v":81.3},{"s":"Indian Spot","d":"2019-07-22","v":81.3},{"s":"Indian Spot","d":"2019-08-07","v":75.9},{"s":"Indian Spot","d":"2019-08-25","v":76.2},{"s":"Indian Spot","d":"2019-09-07","v":74.1},{"s":"Indian Spot","d":"2019-10-01","v":74.7},{"s":"Indian Spot","d":"2019-10-22","v":74.1},{"s":"Indian Spot","d":"2019-11-07","v":72.3},{"s":"Indian Spot","d":"2019-11-25","v":71.7},{"s":"Indian Spot","d":"2019-12-13","v":69.9},{"s":"Indian Spot","d":"2020-01-01","v":70.5},{"s":"Indian Spot","d":"2020-01-10","v":72.9},{"s":"Indian Spot","d":"2020-01-28","v":70.5},{"s":"Indian Spot","d":"2020-02-13","v":70.5},{"s":"Indian Spot","d":"2020-03-01","v":66.9},{"s":"Indian Spot","d":"2020-03-16","v":63.3},{"s":"Indian Spot","d":"2020-03-28","v":62.0},{"s":"Indian Spot","d":"2020-04-16","v":60.8},{"s":"Indian Spot","d":"2020-05-04","v":59.0},{"s":"Indian Spot","d":"2020-05-22","v":59.0},{"s":"Indian Spot","d":"2020-06-10","v":60.2},{"s":"Indian Spot","d":"2020-06-28","v":58.4},{"s":"Indian Spot","d":"2020-07-16","v":59.3},{"s":"Indian Spot","d":"2020-08-04","v":59.6},{"s":"Indian Spot","d":"2020-08-19","v":60.8},{"s":"Indian Spot","d":"2020-09-01","v":62.5},{"s":"Indian Spot","d":"2020-09-28","v":63.8},{"s":"Indian Spot","d":"2020-10-16","v":70.5},{"s":"Indian Spot","d":"2020-10-28","v":68.0},{"s":"Indian Spot","d":"2020-11-22","v":71.3},{"s":"Indian Spot","d":"2020-12-10","v":71.3},{"s":"Indian Spot","d":"2020-12-28","v":74.7},{"s":"Indian Spot","d":"2021-01-16","v":76.4},{"s":"Indian Spot","d":"2021-02-04","v":75.5},{"s":"Indian Spot","d":"2021-02-22","v":79.7},{"s":"Indian Spot","d":"2021-03-10","v":80.5},{"s":"Indian Spot","d":"2021-03-22","v":77.2},{"s":"Indian Spot","d":"2021-04-07","v":78.0},{"s":"Indian Spot","d":"2021-04-25","v":78.9},{"s":"Indian Spot","d":"2021-05-13","v":81.4},{"s":"Indian Spot","d":"2021-06-01","v":87.2},{"s":"Indian Spot","d":"2021-06-19","v":89.7},{"s":"Indian Spot","d":"2021-07-04","v":91.4},{"s":"Indian Spot","d":"2021-07-22","v":97.3},{"s":"Indian Spot","d":"2021-08-10","v":96.4},{"s":"Indian Spot","d":"2021-08-28","v":98.5},{"s":"Indian Spot","d":"2021-09-13","v":96.4},{"s":"Indian Spot","d":"2021-09-25","v":98.1},{"s":"Indian Spot","d":"2021-10-10","v":99.8},{"s":"Indian Spot","d":"2021-10-22","v":106.5},{"s":"Indian Spot","d":"2021-11-01","v":114.9},{"s":"Indian Spot","d":"2021-11-19","v":113.2},{"s":"Indian Spot","d":"2021-12-04","v":109.0},{"s":"Indian Spot","d":"2021-12-16","v":109.8},{"s":"Indian Spot","d":"2022-01-01","v":117.4},{"s":"Indian Spot","d":"2022-01-13","v":125.7},{"s":"Indian Spot","d":"2022-01-23","v":129.1},{"s":"Indian Spot","d":"2022-02-10","v":133.3},{"s":"Indian Spot","d":"2022-02-19","v":133.3},{"s":"Indian Spot","d":"2022-03-01","v":128.2},{"s":"Indian Spot","d":"2022-03-07","v":129.9},{"s":"Indian Spot","d":"2022-03-16","v":138.3},{"s":"Indian Spot","d":"2022-03-22","v":150.0},{"s":"Indian Spot","d":"2022-04-04","v":155.0},{"s":"Indian Spot","d":"2022-04-19","v":157.1},{"s":"Indian Spot","d":"2022-05-01","v":160.9},{"s":"Indian Spot","d":"2022-05-16","v":168.8},{"s":"Indian Spot","d":"2022-05-25","v":165.9},{"s":"Indian Spot","d":"2022-06-04","v":160.0},{"s":"Indian Spot","d":"2022-06-16","v":162.1},{"s":"Indian Spot","d":"2022-06-25","v":151.7},{"s":"Indian Spot","d":"2022-07-04","v":145.0},{"s":"Indian Spot","d":"2022-07-19","v":137.4},{"s":"Indian Spot","d":"2022-07-28","v":143.3},{"s":"Indian Spot","d":"2022-08-10","v":152.5},{"s":"Indian Spot","d":"2022-08-16","v":158.0},{"s":"Indian Spot","d":"2022-08-28","v":152.5},{"s":"Indian Spot","d":"2022-09-07","v":143.3},{"s":"Indian Spot","d":"2022-09-16","v":131.6},{"s":"Indian Spot","d":"2022-09-25","v":116.5},{"s":"Indian Spot","d":"2022-10-10","v":109.8},{"s":"Indian Spot","d":"2022-10-22","v":104.8},{"s":"Indian Spot","d":"2022-11-01","v":99.8},{"s":"Indian Spot","d":"2022-11-16","v":109.0},{"s":"Indian Spot","d":"2022-12-04","v":106.5},{"s":"Indian Spot","d":"2022-12-25","v":88.1},{"s":"Indian Spot","d":"2023-01-13","v":99.0},{"s":"Indian Spot","d":"2023-02-04","v":96.4},{"s":"Indian Spot","d":"2023-02-28","v":97.3},{"s":"Indian Spot","d":"2023-03-19","v":93.9},{"s":"Indian Spot","d":"2023-04-04","v":98.1},{"s":"Indian Spot","d":"2023-04-22","v":97.3},{"s":"Indian Spot","d":"2023-05-10","v":95.6},{"s":"Indian Spot","d":"2023-05-22","v":88.1},{"s":"Indian Spot","d":"2023-06-07","v":90.6},{"s":"Indian Spot","d":"2023-06-19","v":89.3},
{"s":"Pakistani Spot","d":"2015-01-01","v":59.6},{"s":"Pakistani Spot","d":"2015-01-12","v":58.4},{"s":"Pakistani Spot","d":"2015-01-25","v":56.0},{"s":"Pakistani Spot","d":"2015-02-08","v":58.4},{"s":"Pakistani Spot","d":"2015-02-26","v":59.0},{"s":"Pakistani Spot","d":"2015-03-19","v":60.2},{"s":"Pakistani Spot","d":"2015-04-07","v":62.7},{"s":"Pakistani Spot","d":"2015-04-25","v":63.9},{"s":"Pakistani Spot","d":"2015-05-13","v":65.4},{"s":"Pakistani Spot","d":"2015-06-04","v":65.1},{"s":"Pakistani Spot","d":"2015-06-19","v":63.3},{"s":"Pakistani Spot","d":"2015-06-28","v":59.0},{"s":"Pakistani Spot","d":"2015-07-07","v":56.0},{"s":"Pakistani Spot","d":"2015-07-25","v":55.4},{"s":"Pakistani Spot","d":"2015-08-07","v":53.6},{"s":"Pakistani Spot","d":"2015-08-22","v":52.4},{"s":"Pakistani Spot","d":"2015-09-10","v":54.8},{"s":"Pakistani Spot","d":"2015-09-28","v":56.0},{"s":"Pakistani Spot","d":"2015-10-07","v":62.0},{"s":"Pakistani Spot","d":"2015-10-19","v":63.3},{"s":"Pakistani Spot","d":"2015-11-13","v":60.8},{"s":"Pakistani Spot","d":"2015-12-04","v":60.2},{"s":"Pakistani Spot","d":"2015-12-26","v":61.4},{"s":"Pakistani Spot","d":"2016-01-10","v":62.7},{"s":"Pakistani Spot","d":"2016-01-19","v":56.0},{"s":"Pakistani Spot","d":"2016-01-28","v":54.8},{"s":"Pakistani Spot","d":"2016-02-07","v":60.8},{"s":"Pakistani Spot","d":"2016-02-19","v":60.2},{"s":"Pakistani Spot","d":"2016-03-07","v":60.8},{"s":"Pakistani Spot","d":"2016-03-25","v":62.7},{"s":"Pakistani Spot","d":"2016-04-10","v":65.7},{"s":"Pakistani Spot","d":"2016-04-22","v":62.7},{"s":"Pakistani Spot","d":"2016-05-07","v":65.1},{"s":"Pakistani Spot","d":"2016-05-19","v":65.0},{"s":"Pakistani Spot","d":"2016-06-16","v":63.3},{"s":"Pakistani Spot","d":"2016-07-01","v":65.7},{"s":"Pakistani Spot","d":"2016-07-10","v":71.1},{"s":"Pakistani Spot","d":"2016-07-19","v":75.9},{"s":"Pakistani Spot","d":"2016-07-28","v":75.3},{"s":"Pakistani Spot","d":"2016-08-07","v":78.9},{"s":"Pakistani Spot","d":"2016-08-16","v":75.3},{"s":"Pakistani Spot","d":"2016-08-28","v":77.1},{"s":"Pakistani Spot","d":"2016-09-07","v":68.7},{"s":"Pakistani Spot","d":"2016-09-22","v":69.9},{"s":"Pakistani Spot","d":"2016-10-04","v":69.3},{"s":"Pakistani Spot","d":"2016-10-22","v":68.7},{"s":"Pakistani Spot","d":"2016-11-10","v":69.9},{"s":"Pakistani Spot","d":"2016-11-25","v":72.9},{"s":"Pakistani Spot","d":"2016-12-13","v":73.2},{"s":"Pakistani Spot","d":"2017-01-01","v":73.5},{"s":"Pakistani Spot","d":"2017-01-19","v":75.3},{"s":"Pakistani Spot","d":"2017-02-04","v":77.1},{"s":"Pakistani Spot","d":"2017-02-19","v":77.7},{"s":"Pakistani Spot","d":"2017-03-07","v":78.9},{"s":"Pakistani Spot","d":"2017-03-25","v":78.9},{"s":"Pakistani Spot","d":"2017-04-13","v":78.3},{"s":"Pakistani Spot","d":"2017-05-10","v":78.3},{"s":"Pakistani Spot","d":"2017-05-28","v":78.9},{"s":"Pakistani Spot","d":"2017-06-16","v":78.3},{"s":"Pakistani Spot","d":"2017-06-25","v":76.5},{"s":"Pakistani Spot","d":"2017-07-04","v":68.7},{"s":"Pakistani Spot","d":"2017-07-16","v":72.9},{"s":"Pakistani Spot","d":"2017-08-04","v":73.5},{"s":"Pakistani Spot","d":"2017-08-22","v":71.1},{"s":"Pakistani Spot","d":"2017-09-10","v":68.7},{"s":"Pakistani Spot","d":"2017-09-28","v":69.9},{"s":"Pakistani Spot","d":"2017-10-16","v":71.1},{"s":"Pakistani Spot","d":"2017-10-28","v":74.5},{"s":"Pakistani Spot","d":"2017-11-10","v":75.3},{"s":"Pakistani Spot","d":"2017-11-28","v":76.5},{"s":"Pakistani Spot","d":"2017-12-16","v":77.1},{"s":"Pakistani Spot","d":"2018-01-04","v":85.5},{"s":"Pakistani Spot","d":"2018-01-22","v":82.5},{"s":"Pakistani Spot","d":"2018-02-10","v":76.5},{"s":"Pakistani Spot","d":"2018-02-25","v":79.5},{"s":"Pakistani Spot","d":"2018-03-10","v":83.1},{"s":"Pakistani Spot","d":"2018-04-01","v":77.7},{"s":"Pakistani Spot","d":"2018-04-19","v":79.5},{"s":"Pakistani Spot","d":"2018-05-07","v":78.3},{"s":"Pakistani Spot","d":"2018-06-01","v":78.9},{"s":"Pakistani Spot","d":"2018-06-22","v":75.3},{"s":"Pakistani Spot","d":"2018-07-10","v":83.1},{"s":"Pakistani Spot","d":"2018-07-19","v":87.3},{"s":"Pakistani Spot","d":"2018-08-04","v":91.6},{"s":"Pakistani Spot","d":"2018-08-13","v":78.9},{"s":"Pakistani Spot","d":"2018-09-01","v":78.3},{"s":"Pakistani Spot","d":"2018-09-19","v":80.7},{"s":"Pakistani Spot","d":"2018-10-01","v":75.3},{"s":"Pakistani Spot","d":"2018-10-19","v":80.7},{"s":"Pakistani Spot","d":"2018-11-13","v":81.9},{"s":"Pakistani Spot","d":"2018-11-25","v":78.9},{"s":"Pakistani Spot","d":"2018-12-10","v":77.1},{"s":"Pakistani Spot","d":"2019-01-01","v":76.5},{"s":"Pakistani Spot","d":"2019-01-19","v":76.5},{"s":"Pakistani Spot","d":"2019-02-10","v":75.3},{"s":"Pakistani Spot","d":"2019-03-04","v":75.9},{"s":"Pakistani Spot","d":"2019-03-22","v":74.5},{"s":"Pakistani Spot","d":"2019-04-04","v":76.2},{"s":"Pakistani Spot","d":"2019-04-28","v":76.5},{"s":"Pakistani Spot","d":"2019-05-10","v":71.1},{"s":"Pakistani Spot","d":"2019-05-19","v":68.7},{"s":"Pakistani Spot","d":"2019-06-04","v":72.3},{"s":"Pakistani Spot","d":"2019-06-22","v":68.1},{"s":"Pakistani Spot","d":"2019-07-10","v":63.3},{"s":"Pakistani Spot","d":"2019-07-22","v":65.1},{"s":"Pakistani Spot","d":"2019-08-07","v":59.6},{"s":"Pakistani Spot","d":"2019-08-19","v":60.2},{"s":"Pakistani Spot","d":"2019-09-04","v":63.3},{"s":"Pakistani Spot","d":"2019-09-22","v":65.7},{"s":"Pakistani Spot","d":"2019-10-10","v":67.5},{"s":"Pakistani Spot","d":"2019-10-28","v":73.5},{"s":"Pakistani Spot","d":"2019-11-16","v":70.5},{"s":"Pakistani Spot","d":"2019-12-04","v":69.3},{"s":"Pakistani Spot","d":"2019-12-22","v":69.3},{"s":"Pakistani Spot","d":"2020-01-10","v":70.5},{"s":"Pakistani Spot","d":"2020-01-28","v":71.4},{"s":"Pakistani Spot","d":"2020-02-13","v":71.7},{"s":"Pakistani Spot","d":"2020-03-01","v":69.3},{"s":"Pakistani Spot","d":"2020-03-16","v":66.3},{"s":"Pakistani Spot","d":"2020-03-28","v":63.9},{"s":"Pakistani Spot","d":"2020-04-13","v":66.3},{"s":"Pakistani Spot","d":"2020-04-25","v":66.9},{"s":"Pakistani Spot","d":"2020-05-13","v":65.7},{"s":"Pakistani Spot","d":"2020-06-01","v":62.7},{"s":"Pakistani Spot","d":"2020-06-19","v":58.4},{"s":"Pakistani Spot","d":"2020-07-07","v":61.4},{"s":"Pakistani Spot","d":"2020-07-25","v":59.6},{"s":"Pakistani Spot","d":"2020-08-13","v":60.8},{"s":"Pakistani Spot","d":"2020-09-01","v":63.0},{"s":"Pakistani Spot","d":"2020-09-10","v":63.8},{"s":"Pakistani Spot","d":"2020-09-28","v":65.5},{"s":"Pakistani Spot","d":"2020-10-16","v":73.8},{"s":"Pakistani Spot","d":"2020-10-28","v":76.4},{"s":"Pakistani Spot","d":"2020-11-13","v":70.5},{"s":"Pakistani Spot","d":"2020-12-01","v":72.2},{"s":"Pakistani Spot","d":"2020-12-19","v":75.5},{"s":"Pakistani Spot","d":"2021-01-07","v":80.5},{"s":"Pakistani Spot","d":"2021-01-28","v":81.4},{"s":"Pakistani Spot","d":"2021-02-16","v":83.9},{"s":"Pakistani Spot","d":"2021-03-01","v":93.9},{"s":"Pakistani Spot","d":"2021-03-13","v":95.6},{"s":"Pakistani Spot","d":"2021-03-28","v":88.9},{"s":"Pakistani Spot","d":"2021-04-07","v":86.4},{"s":"Pakistani Spot","d":"2021-04-25","v":89.7},{"s":"Pakistani Spot","d":"2021-05-16","v":89.7},{"s":"Pakistani Spot","d":"2021-05-25","v":96.4},{"s":"Pakistani Spot","d":"2021-06-19","v":97.3},{"s":"Pakistani Spot","d":"2021-07-01","v":99.8},{"s":"Pakistani Spot","d":"2021-07-16","v":96.4},{"s":"Pakistani Spot","d":"2021-08-01","v":96.4},{"s":"Pakistani Spot","d":"2021-08-16","v":101.5},{"s":"Pakistani Spot","d":"2021-08-28","v":102.3},{"s":"Pakistani Spot","d":"2021-09-16","v":92.3},{"s":"Pakistani Spot","d":"2021-09-25","v":96.4},{"s":"Pakistani Spot","d":"2021-10-10","v":106.5},{"s":"Pakistani Spot","d":"2021-10-28","v":116.5},{"s":"Pakistani Spot","d":"2021-11-16","v":121.5},{"s":"Pakistani Spot","d":"2021-11-28","v":121.5},{"s":"Pakistani Spot","d":"2021-12-07","v":114.9},{"s":"Pakistani Spot","d":"2021-12-16","v":119.0},{"s":"Pakistani Spot","d":"2022-01-04","v":128.2},{"s":"Pakistani Spot","d":"2022-01-19","v":132.4},{"s":"Pakistani Spot","d":"2022-01-28","v":134.0},{"s":"Pakistani Spot","d":"2022-02-10","v":140.8},{"s":"Pakistani Spot","d":"2022-03-01","v":136.6},{"s":"Pakistani Spot","d":"2022-03-16","v":134.1},{"s":"Pakistani Spot","d":"2022-04-04","v":136.6},{"s":"Pakistani Spot","d":"2022-04-22","v":136.6},{"s":"Pakistani Spot","d":"2022-05-10","v":131.6},{"s":"Pakistani Spot","d":"2022-05-25","v":126.6},{"s":"Pakistani Spot","d":"2022-06-01","v":138.3},{"s":"Pakistani Spot","d":"2022-06-07","v":126.6},{"s":"Pakistani Spot","d":"2022-06-16","v":121.5},{"s":"Pakistani Spot","d":"2022-06-25","v":108.2},{"s":"Pakistani Spot","d":"2022-07-04","v":96.4},{"s":"Pakistani Spot","d":"2022-07-16","v":85.6},{"s":"Pakistani Spot","d":"2022-07-22","v":95.6},{"s":"Pakistani Spot","d":"2022-08-07","v":92.3},{"s":"Pakistani Spot","d":"2022-08-16","v":116.5},{"s":"Pakistani Spot","d":"2022-08-25","v":126.6},{"s":"Pakistani Spot","d":"2022-09-07","v":116.5},{"s":"Pakistani Spot","d":"2022-09-22","v":113.2},{"s":"Pakistani Spot","d":"2022-10-04","v":104.8},{"s":"Pakistani Spot","d":"2022-10-22","v":96.4},{"s":"Pakistani Spot","d":"2022-11-01","v":88.9},{"s":"Pakistani Spot","d":"2022-11-16","v":93.1},{"s":"Pakistani Spot","d":"2022-11-28","v":90.6},{"s":"Pakistani Spot","d":"2022-12-16","v":89.3},{"s":"Pakistani Spot","d":"2023-01-01","v":89.7},{"s":"Pakistani Spot","d":"2023-01-07","v":105.6},{"s":"Pakistani Spot","d":"2023-01-22","v":106.1},{"s":"Pakistani Spot","d":"2023-02-01","v":93.9},{"s":"Pakistani Spot","d":"2023-02-13","v":98.9},{"s":"Pakistani Spot","d":"2023-02-28","v":92.3},{"s":"Pakistani Spot","d":"2023-03-07","v":87.2},{"s":"Pakistani Spot","d":"2023-03-19","v":81.4},{"s":"Pakistani Spot","d":"2023-04-04","v":80.5},{"s":"Pakistani Spot","d":"2023-04-16","v":85.6},{"s":"Pakistani Spot","d":"2023-05-10","v":85.6},{"s":"Pakistani Spot","d":"2023-05-28","v":85.1},{"s":"Pakistani Spot","d":"2023-06-10","v":86.4},{"s":"Pakistani Spot","d":"2023-06-19","v":80.5}
],
"note": [{"d": "2019-01-09", "v": 105.5, "v2": 135.5}],
"label": [{"d": "2017-10-11", "v": 158.5, "t": ["Las diferencias en los plazos de entrega", "y el sistema de cuotas elevaron los precios", "relativos Chinos respecto a otros mercados"]}]
},
"layer": [
{
"data": {"name": "prices"},
"mark": {"type": "line", "strokeWidth": 5, "strokeJoin": "round", "strokeCap": "round"},
"encoding": {
"x": {"field": "d", "type": "temporal",
"scale": {"type": "utc", "domain": [{"year": 2015, "month": 1, "date": 1, "utc": true}, {"year": 2023, "month": 6, "date": 19, "utc": true}]},
"axis": {"title": null, "labelExpr": "utcFormat(datum.value, '%b-%y')",
"values": [{"year":2015,"month":1,"date":1,"utc":true},{"year":2015,"month":3,"date":22,"utc":true},{"year":2015,"month":6,"date":10,"utc":true},{"year":2015,"month":8,"date":29,"utc":true},{"year":2015,"month":11,"date":17,"utc":true},{"year":2016,"month":2,"date":5,"utc":true},{"year":2016,"month":4,"date":25,"utc":true},{"year":2016,"month":7,"date":14,"utc":true},{"year":2016,"month":10,"date":2,"utc":true},{"year":2016,"month":12,"date":21,"utc":true},{"year":2017,"month":3,"date":11,"utc":true},{"year":2017,"month":5,"date":30,"utc":true},{"year":2017,"month":8,"date":18,"utc":true},{"year":2017,"month":11,"date":6,"utc":true},{"year":2018,"month":1,"date":25,"utc":true},{"year":2018,"month":4,"date":15,"utc":true},{"year":2018,"month":7,"date":4,"utc":true},{"year":2018,"month":9,"date":22,"utc":true},{"year":2018,"month":12,"date":10,"utc":true},{"year":2019,"month":2,"date":27,"utc":true},{"year":2019,"month":5,"date":18,"utc":true},{"year":2019,"month":8,"date":6,"utc":true},{"year":2019,"month":10,"date":25,"utc":true},{"year":2020,"month":1,"date":13,"utc":true},{"year":2020,"month":4,"date":1,"utc":true},{"year":2020,"month":6,"date":20,"utc":true},{"year":2020,"month":9,"date":8,"utc":true},{"year":2020,"month":11,"date":27,"utc":true},{"year":2021,"month":2,"date":15,"utc":true},{"year":2021,"month":5,"date":6,"utc":true},{"year":2021,"month":7,"date":25,"utc":true},{"year":2021,"month":10,"date":13,"utc":true},{"year":2021,"month":12,"date":31,"utc":true},{"year":2022,"month":3,"date":21,"utc":true},{"year":2022,"month":6,"date":9,"utc":true},{"year":2022,"month":8,"date":28,"utc":true},{"year":2022,"month":11,"date":16,"utc":true},{"year":2023,"month":2,"date":4,"utc":true},{"year":2023,"month":4,"date":25,"utc":true}],
"labelAngle": -45, "labelAlign": "right", "labelBaseline": "middle", "labelFontSize": 33, "labelColor": "#595959", "labelFont": "Open Sans",
"ticks": false, "domain": false, "grid": false, "labelPadding": 10, "labelOffset": 26, "labelOverlap": false, "labelFlush": false, "labelBound": false}
},
"y": {"field": "v", "type": "quantitative",
"scale": {"domain": [50, 190], "nice": false, "zero": false},
"axis": {"title": "centavos/lb", "titleAngle": 0, "titleAlign": "left", "titleBaseline": "alphabetic", "titleX": 0, "titleY": -7, "titleFontSize": 33, "titleFontWeight": "normal", "titleColor": "#595959", "titleFont": "Open Sans",
"values": [50, 70, 90, 110, 130, 150, 170, 190], "labelFontSize": 34, "labelColor": "#595959", "labelFont": "Open Sans", "labelPadding": 38,
"ticks": false, "domain": false, "grid": true, "gridColor": "#E3E3E3", "gridWidth": 2}
},
"color": {"field": "s", "type": "nominal",
"scale": {"domain": ["A Index", "NY Nearby", "CC Index (China)", "Indian Spot", "Pakistani Spot"], "range": ["#A2C4E4", "#2C6990", "#FF0000", "#FFC000", "#5BA4B1"]},
"legend": {"title": null, "orient": "none", "legendX": 40, "legendY": 34, "direction": "vertical", "symbolType": "stroke", "symbolSize": 2500, "symbolStrokeWidth": 5, "labelFontSize": 36, "labelColor": "#595959", "labelFont": "Open Sans", "rowPadding": 48, "labelOffset": 3, "padding": 0, "labelLimit": 600}
}
}
},
{
"data": {"name": "note"},
"mark": {"type": "rule", "color": "#404040", "strokeWidth": 2},
"encoding": {"x": {"field": "d", "type": "temporal"}, "y": {"field": "v", "type": "quantitative"}, "y2": {"field": "v2"}}
},
{
"data": {"name": "label"},
"mark": {"type": "text", "align": "left", "baseline": "alphabetic", "fontSize": 45, "lineHeight": 57, "color": "#595959", "font": "Open Sans"},
"encoding": {"x": {"field": "d", "type": "temporal"}, "y": {"field": "v", "type": "quantitative"}, "text": {"field": "t"}}
}
]
}
